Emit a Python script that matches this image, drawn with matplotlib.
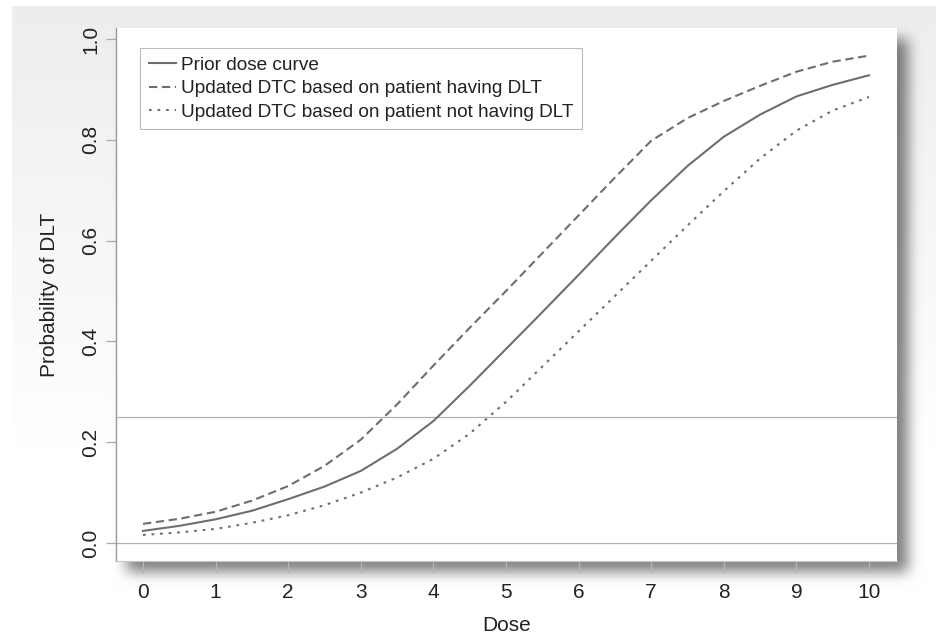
import numpy as np
import matplotlib
matplotlib.use('Agg')
import matplotlib.pyplot as plt
from matplotlib.ticker import FormatStrFormatter

# Werte
dose = [0, 0.5, 1, 1.5, 2, 2.5, 3, 3.5, 4, 4.5, 5, 5.5, 6, 6.5, 7, 7.5, 8, 8.5, 9, 9.5, 10]
prior = [0.024, 0.034, 0.047, 0.064, 0.087, 0.112, 0.143, 0.187, 0.242, 0.312, 0.385,
         0.458, 0.532, 0.607, 0.680, 0.748, 0.806, 0.850, 0.886, 0.909, 0.928]
dlt = [0.038, 0.048, 0.062, 0.084, 0.113, 0.153, 0.205, 0.275, 0.352, 0.427, 0.500,
       0.575, 0.650, 0.725, 0.798, 0.843, 0.877, 0.907, 0.935, 0.955, 0.967]
no_dlt = [0.016, 0.021, 0.028, 0.040, 0.055, 0.075, 0.100, 0.130, 0.167, 0.217, 0.280,
          0.350, 0.420, 0.490, 0.560, 0.630, 0.698, 0.763, 0.818, 0.858, 0.885]
labels = ['Prior dose curve',
          'Updated DTC based on patient having DLT',
          'Updated DTC based on patient not having DLT']
target = 0.25
xticks = list(range(0, 11))
yticks = [0.0, 0.2, 0.4, 0.6, 0.8, 1.0]

plt.rcParams['font.family'] = ['Liberation Sans', 'DejaVu Sans']

W, H = 936, 635
fig = plt.figure(figsize=(W / 100, H / 100), dpi=100)

# Hintergrund: grauer Verlauf + Schatten hinter dem Plotfeld
box = (116, 28, 897, 561)  # links, oben, rechts, unten in Pixel
yy, xx = np.mgrid[0:H, 0:W]
bg = 0.93 + 0.07 * np.clip((yy - 6) / 440.0, 0, 1)
bg[(yy < 6) | (xx < 12)] = 1.0

mask = np.zeros((H, W))
off = 11
mask[box[1] + off:box[3] + off, box[0] + off:box[2] + off] = 1.0
k = np.ones(13) / 13.0
for _ in range(3):
    mask = np.apply_along_axis(lambda r: np.convolve(r, k, mode='same'), 1, mask)
    mask = np.apply_along_axis(lambda c: np.convolve(c, k, mode='same'), 0, mask)
bg = bg * (1 - 0.5 * mask)
fig.figimage(np.dstack([bg, bg, bg]), 0, 0, origin='upper', zorder=-10)

ax = fig.add_axes([box[0] / W, 1 - box[3] / H, (box[2] - box[0]) / W, (box[3] - box[1]) / H])
ax.set_zorder(5)
ax.set_facecolor('white')

ax.axhline(target, color='#b0b0b0', lw=0.9, zorder=1)
ax.axhline(0, color='#b0b0b0', lw=0.9, zorder=1)

col = '#6e6e6e'
ax.plot(dose, prior, color=col, lw=1.5, ls='-', label=labels[0])
ax.plot(dose, dlt, color=col, lw=1.5, ls=(0, (4, 2.2)), label=labels[1])
ax.plot(dose, no_dlt, color=col, lw=1.5, ls=(0, (1.3, 2.8)), label=labels[2])

ax.set_xlim(-0.372, 10.386)
ax.set_ylim(-0.0357, 1.0218)
ax.set_xticks(xticks)
ax.set_yticks(yticks)
ax.yaxis.set_major_formatter(FormatStrFormatter('%.1f'))

for s in ['top', 'right']:
    ax.spines[s].set_visible(False)
ax.spines['left'].set_color('#9a9a9a')
ax.spines['bottom'].set_color('#c8c8c8')
ax.spines['left'].set_linewidth(1.0)
ax.spines['bottom'].set_linewidth(0.8)

ax.tick_params(axis='y', length=7.2, width=0.9, color='#aaaaaa', labelsize=15,
               labelcolor='#222222', pad=4, labelrotation=90)
ax.tick_params(axis='x', length=8.6, width=0.9, color='#b5b5b5', labelsize=15,
               labelcolor='#222222', pad=7)
for t in ax.get_yticklabels():
    t.set_va('center')

ax.set_xlabel('Dose', fontsize=15, color='#222222', labelpad=10)
ax.set_ylabel('Probability of DLT', fontsize=15, color='#222222', labelpad=16)

leg = ax.legend(loc='upper left', bbox_to_anchor=(0.0307, 0.9625), borderaxespad=0,
                fontsize=13.7, frameon=True, fancybox=False, framealpha=1,
                edgecolor='#bbbbbb', handlelength=1.45, handletextpad=0.27,
                labelspacing=0.32, borderpad=0.45)
leg.get_frame().set_linewidth(0.8)
for t in leg.get_texts():
    t.set_color('#222222')

fig.savefig('out.png', dpi=100)
